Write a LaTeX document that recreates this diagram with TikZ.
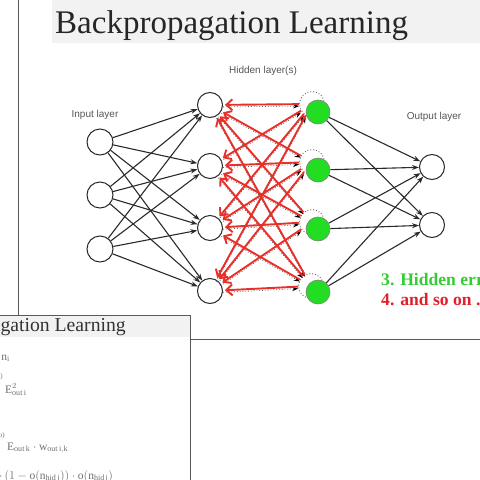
\documentclass[tikz,border=0pt]{standalone}
\usepackage{fontspec}
\setmainfont{Liberation Serif}
\setsansfont{Liberation Sans}
\newfontfamily\slideserif{Liberation Serif}
\usetikzlibrary{arrows.meta}
\definecolor{bandgray}{HTML}{F2F2F2}
\definecolor{lblgray}{HTML}{555555}
\definecolor{nodegreen}{HTML}{22DD22}
\definecolor{errgreen}{HTML}{33CC33}
\definecolor{errred}{HTML}{E0202A}
\definecolor{arrred}{HTML}{E8302A}
\definecolor{fadegray}{HTML}{707070}
\definecolor{edgegray}{HTML}{2A2A2A}
\begin{document}
\begin{tikzpicture}[x=1pt,y=-1pt,
  slideline/.style={draw=black!65,line width=1pt},
  neuron/.style={circle,draw=edgegray,line width=1pt,fill=white,minimum size=25pt,inner sep=0pt},
  ghost/.style={circle,draw=black!60,dotted,line width=0.9pt,fill=white,minimum size=25pt,inner sep=0pt},
  greenneuron/.style={circle,draw=black!50,line width=0.6pt,fill=nodegreen,minimum size=24pt,inner sep=0pt},
  fwd/.style={draw=edgegray,line width=1.1pt,-{Stealth[length=7pt,width=5pt]}},
  dotfwd/.style={draw=black!60,dotted,line width=0.8pt,-{Stealth[length=6pt,width=4.5pt,color=black]}},
  back/.style={draw=arrred,line width=1.9pt,-{Straight Barb[length=6pt,width=11pt]},shorten >=2pt},
  layerlabel/.style={font=\sffamily\fontsize{10}{12}\selectfont,text=lblgray,inner sep=0pt},
  slidetitle/.style={font=\slideserif\fontsize{33}{38}\selectfont,text=black!85,inner sep=0pt},
  smalltitle/.style={font=\slideserif\fontsize{19.7}{23}\selectfont,text=black!80,inner sep=0pt},
  errtext/.style={font=\slideserif\bfseries\fontsize{17.6}{20}\selectfont,inner sep=0pt,anchor=base west},
  formula/.style={font=\fontsize{11.5}{13}\selectfont,text=fadegray,inner sep=0pt}
]
\useasboundingbox (0,0) rectangle (480,480);
\clip (0,0) rectangle (480,480);

% ---------- top slide ----------
\fill[bandgray] (52,0) rectangle (480,43);
\node[slidetitle,anchor=base west] (title) at (55,33) {Backpropagation Learning};
\draw[slideline] (18,0) -- (18,315);
\draw[slideline] (190,339) -- (480,339);

\node[layerlabel] (linput) at (95,115) {Input layer};
\node[layerlabel] (lhidden) at (263,71) {Hidden layer(s)};
\node[layerlabel] (loutput) at (434,117) {Output layer};

% input layer
\node[neuron,minimum size=26pt] (i1) at (100,142) {};
\node[neuron,minimum size=26pt] (i2) at (100,195) {};
\node[neuron,minimum size=26pt] (i3) at (100,249) {};
% hidden layer 1
\node[neuron] (h1) at (210,105) {};
\node[neuron] (h2) at (210,166) {};
\node[neuron] (h3) at (210,228) {};
\node[neuron] (h4) at (210,291) {};
% hidden layer 2 (original positions)
\node[ghost] (w1) at (312,104) {};
\node[ghost] (w2) at (312,162) {};
\node[ghost] (w3) at (312,222) {};
\node[ghost] (w4) at (311,286) {};
% output layer
\node[neuron] (o1) at (432,167) {};
\node[neuron] (o2) at (432,225) {};

\foreach \a in {1,2,3}
  \foreach \b in {1,2,3,4}
    \draw[fwd] (i\a) -- (h\b);

\foreach \a in {1,2,3,4}
  \foreach \b in {1,2,3,4}
    \draw[dotfwd,transform canvas={yshift=-2pt}] (h\a) -- (w\b);

\foreach \a in {1,2,3,4}
  \foreach \b in {1,2,3,4}
    \draw[back] (w\b) -- (h\a);

% green (updated) hidden neurons
\node[greenneuron] (g1) at (318,112) {};
\node[greenneuron] (g2) at (318,170) {};
\node[greenneuron] (g3) at (318,229) {};
\node[greenneuron] (g4) at (318,292) {};

\foreach \a in {1,2,3,4}
  \foreach \b in {1,2}
    \draw[fwd] (g\a) -- (o\b);

\node[errtext,text=errgreen] (e3) at (381,285) {3. Hidden error};
\node[errtext,text=errred] (e4) at (381,305) {4. and so on ...};

% ---------- bottom slide ----------
\fill[white] (0,315) rectangle (190,480);
\fill[bandgray] (0,315) rectangle (190,337);
\draw[slideline] (0,315) -- (190,315) -- (190,480);
\node[smalltitle,anchor=base east] (title2) at (126,331) {Backpropagation Learning};

\node[formula,anchor=base east] (f1) at (10,360) {$\mathrm{n}_{\mathrm{i}}$};
\node[formula,anchor=base east,font=\fontsize{7}{8}\selectfont] (f2a) at (3,378) {)};
\node[formula,anchor=base west] (f2) at (5,393) {$\mathrm{E}^{2}_{\mathrm{out\,i}}$};
\node[formula,anchor=base east,font=\fontsize{7}{8}\selectfont] (f3a) at (5,437) {o)};
\node[formula,anchor=base west] (f3) at (7,450) {$\mathrm{E}_{\mathrm{out\,k}}\cdot\mathrm{w}_{\mathrm{out\,i,k}}$};
\node[formula,anchor=base west] (f4) at (-1,479) {$\cdot\,(1-\mathrm{o}(\mathrm{n}_{\mathrm{hid\,j}}))\cdot\mathrm{o}(\mathrm{n}_{\mathrm{hid\,j}})$};
\end{tikzpicture}
\end{document}
